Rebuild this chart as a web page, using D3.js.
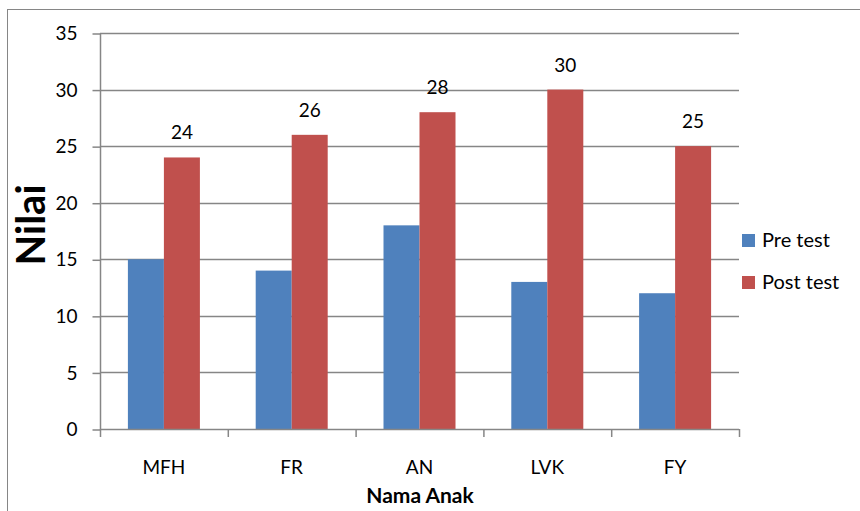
<!DOCTYPE html>
<html>
<head>
<meta charset="utf-8">
<script src="https://cdn.jsdelivr.net/npm/d3@7"></script>
<style>
  body { margin: 0; background: #fff; }
  text { font-family: Lato, "Open Sans", sans-serif; fill: #000; }
</style>
</head>
<body>
<div id="chart"></div>
<script>
var names = ["MFH", "FR", "AN", "LVK", "FY"];
var series = ["Pre test", "Post test"];
var preTest = [15, 14, 18, 13, 12];
var postTest = [24, 26, 28, 30, 25];
var yTicks = [0, 5, 10, 15, 20, 25, 30, 35];
var colors = ["#4F81BD", "#C0504D"];

var W = 860, H = 511;
var plotL = 100, plotR = 739, plotT = 33, plotB = 429;

var svg = d3.select("#chart").append("svg")
    .attr("width", W)
    .attr("height", H);

// outer chart border
svg.append("rect")
    .attr("x", 7.5).attr("y", 9.5)
    .attr("width", W + 10).attr("height", H + 10)
    .attr("fill", "none")
    .attr("stroke", "#868686")
    .attr("stroke-width", 1);

var y = d3.scaleLinear().domain([0, 35]).range([plotB, plotT]);
var x = d3.scaleBand().domain(names).range([plotL, plotR]);
var bw = x.bandwidth();
var xSub = d3.scaleBand().domain(series).range([bw / 2 - 36, bw / 2 + 36]);

// gridlines
svg.append("g").selectAll("line")
    .data(yTicks.filter(d => d > 0))
    .join("line")
    .attr("x1", plotL).attr("x2", plotR)
    .attr("y1", d => Math.round(y(d)) + 0.5)
    .attr("y2", d => Math.round(y(d)) + 0.5)
    .attr("stroke", "#868686")
    .attr("stroke-width", 1.5);

// y axis
var yAxis = svg.append("g")
    .attr("transform", "translate(" + (plotL + 0.5) + ",0.5)")
    .call(d3.axisLeft(y).tickValues(yTicks).tickSize(8).tickPadding(15));
yAxis.select(".domain").attr("stroke", "#868686").attr("stroke-width", 1.5).attr("d", "M0," + plotT + "V" + plotB);
yAxis.selectAll(".tick line").attr("stroke", "#868686").attr("stroke-width", 1.5);
yAxis.selectAll(".tick text").style("font-size", "19px").style("font-family", "Lato").attr("fill", "#000");

// bars
var groups = svg.append("g").selectAll("g")
    .data(names)
    .join("g")
    .attr("transform", d => "translate(" + x(d) + ",0)");

groups.selectAll("rect")
    .data((d, i) => [preTest[i], postTest[i]].map((v, k) => ({ s: series[k], v: v, k: k })))
    .join("rect")
    .attr("x", d => xSub(d.s))
    .attr("width", xSub.bandwidth())
    .attr("y", d => y(d.v))
    .attr("height", d => plotB - y(d.v))
    .attr("fill", d => colors[d.k]);

// data labels on post test
groups.append("text")
    .attr("x", (d, i) => xSub("Post test") + xSub.bandwidth() / 2)
    .attr("y", (d, i) => y(postTest[i]) - 18)
    .attr("text-anchor", "middle")
    .style("font-size", "19px")
    .text((d, i) => postTest[i]);

// x axis
svg.append("line")
    .attr("x1", plotL).attr("x2", plotR)
    .attr("y1", plotB + 0.5).attr("y2", plotB + 0.5)
    .attr("stroke", "#868686").attr("stroke-width", 1.5);
svg.append("g").selectAll("line")
    .data(names.concat(["end"]))
    .join("line")
    .attr("x1", (d, i) => plotL + i * bw + 0.5)
    .attr("x2", (d, i) => plotL + i * bw + 0.5)
    .attr("y1", plotB).attr("y2", plotB + 8)
    .attr("stroke", "#868686").attr("stroke-width", 1.5);
svg.append("g").selectAll("text")
    .data(names)
    .join("text")
    .attr("x", d => x(d) + bw / 2)
    .attr("y", 474)
    .attr("text-anchor", "middle")
    .style("font-size", "19px")
    .text(d => d);

// axis titles
svg.append("text")
    .attr("transform", "translate(45,225) rotate(-90)")
    .attr("text-anchor", "middle")
    .style("font-size", "40px")
    .style("font-weight", "bold")
    .text("Nilai");

svg.append("text")
    .attr("x", 420).attr("y", 503)
    .attr("text-anchor", "middle")
    .style("font-size", "21px")
    .style("font-weight", "bold")
    .text("Nama Anak");

// legend
var leg = svg.append("g").selectAll("g")
    .data(series)
    .join("g")
    .attr("transform", (d, i) => "translate(742," + (234 + i * 42) + ")");
leg.append("rect")
    .attr("width", 13).attr("height", 13)
    .attr("fill", (d, i) => colors[i]);
leg.append("text")
    .attr("x", 20).attr("y", 13)
    .style("font-size", "20px")
    .text(d => d);
</script>
</body>
</html>
